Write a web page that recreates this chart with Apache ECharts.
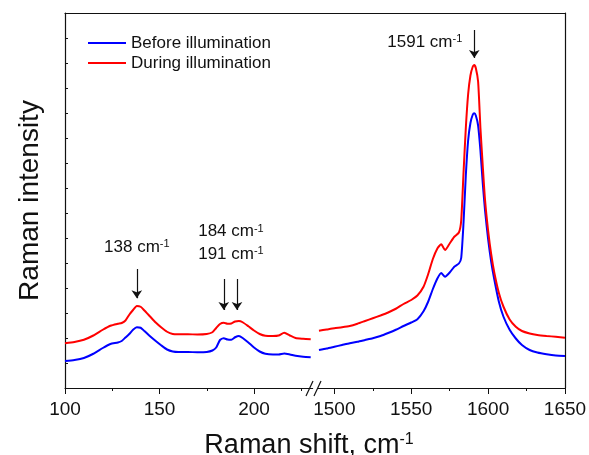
<!DOCTYPE html>
<html>
<head>
<meta charset="utf-8">
<script src="https://cdn.jsdelivr.net/npm/echarts@6/dist/echarts.min.js"></script>
<style>
html,body{margin:0;padding:0;background:#fff;}
#chart{width:589px;height:455px;}
</style>
</head>
<body>
<div id="chart"></div>
<script>
// ---- data (arbitrary intensity units) ----
const seriesNames = ['Before illumination', 'During illumination'];

const leftShift = [100,105,110,115,120,124,128,130,132,134,136,138,140,142,145,148,151,154,157,160,165,170,175,178,180,182,184,186,188,190,192,194,197,200,203,206,210,213,216,219,222,226,230];
const leftBefore = [1.08,1.12,1.20,1.37,1.60,1.76,1.82,1.88,2.02,2.16,2.33,2.43,2.41,2.28,2.07,1.88,1.70,1.54,1.46,1.44,1.44,1.43,1.44,1.50,1.62,1.92,1.99,1.94,1.93,2.03,2.08,2.00,1.82,1.62,1.46,1.37,1.34,1.34,1.38,1.34,1.29,1.25,1.23];
const leftDuring = [1.79,1.84,1.93,2.10,2.33,2.49,2.57,2.60,2.70,2.93,3.12,3.28,3.25,3.10,2.86,2.62,2.42,2.25,2.16,2.15,2.15,2.14,2.16,2.23,2.40,2.56,2.61,2.57,2.58,2.66,2.68,2.63,2.47,2.30,2.16,2.09,2.08,2.10,2.21,2.10,2.00,1.97,1.95];

const rightShift = [1490,1495,1500,1505,1510,1515,1520,1525,1530,1535,1540,1545,1550,1554,1558,1561,1564,1567,1569.5,1572,1575,1578,1581,1582.5,1584,1585.5,1587,1588.5,1590,1591,1592,1593.5,1595,1596.5,1598,1600,1602,1604,1607,1610,1614,1618,1622,1627,1632,1638,1644,1650];
const rightBefore = [1.52,1.58,1.65,1.72,1.79,1.85,1.92,1.99,2.08,2.20,2.33,2.48,2.62,2.75,3.07,3.45,3.95,4.38,4.60,4.45,4.62,4.85,4.98,5.20,6.60,8.50,9.90,10.60,10.93,10.99,10.90,10.50,9.50,8.20,7.10,5.95,5.05,4.35,3.45,2.85,2.33,1.98,1.72,1.52,1.42,1.35,1.30,1.28];
const rightDuring = [2.29,2.34,2.39,2.43,2.48,2.57,2.68,2.79,2.90,3.02,3.17,3.36,3.52,3.70,4.05,4.55,5.15,5.58,5.75,5.52,5.78,6.05,6.22,6.70,8.60,10.40,11.75,12.50,12.85,12.92,12.80,12.25,10.40,8.90,7.52,6.30,5.35,4.62,3.80,3.25,2.74,2.45,2.28,2.18,2.12,2.08,2.05,2.01];

const leftMajorTicks = [100,150,200];
const leftMinorTicks = [125,175,225];
const rightMajorTicks = [1500,1550,1600,1650];
const rightMinorTicks = [1525,1575,1625];

// annotated peaks: position, arrow top, arrow tip
const peakLeft = [138, 184, 191];
const peakLeftArrowTop = [4.76, 4.36, 4.36];
const peakLeftArrowTip = [3.59, 3.12, 3.12];
const peakRight = [1591];
const peakRightArrowTop = [14.32];
const peakRightArrowTip = [13.2];
// label anchors
const labelLeftX = [138, 187.8, 187.8];
const labelLeftY = [5.64, 6.25, 5.36];
const labelLeftText = ['138', '184', '191'];
const labelRightX = [1591];
const labelRightY = [13.84];
const labelRightText = ['1591'];

// ---- chart ----
const FONT = '"Liberation Sans", Arial, sans-serif';
const BLUE = '#0000ff', RED = '#ff0000', INK = '#111';
const zip = (a, b) => a.map((v, i) => [v, b[i]]);

const L_LEFT = 65, L_RIGHT = 312.6, R_LEFT = 318.2, R_RIGHT = 565, TOP = 13, BOTTOM = 388, W = 589, H = 455;

const richSup = {
  a: {fontSize: 17, fontFamily: FONT, color: INK},
  s: {fontSize: 11, fontFamily: FONT, color: INK, verticalAlign: 'top'}
};

function arrowLines(xs, tops, tips) {
  return xs.map((x, i) => [{coord: [x, tops[i]]}, {coord: [x, tips[i]]}]);
}
function labelPoints(xs, ys, texts) {
  return xs.map((x, i) => ({coord: [x, ys[i]], value: texts[i]}));
}

const markLineStyle = {
  silent: true, symbol: ['none', 'arrow'], symbolSize: 8,
  lineStyle: {color: INK, width: 1.2, type: 'solid'},
  label: {show: false}, emphasis: {disabled: true}, animation: false
};

const valueAxisHidden = (grid, min, max) => ({
  type: 'value', gridIndex: grid, min: min, max: max, show: false
});
const plainNum = v => String(v);
const gridBase = {top: TOP, bottom: H - BOTTOM, outerBoundsMode: 'none', containLabel: false};

const option = {
  animation: false,
  textStyle: {fontFamily: FONT},
  grid: [
    Object.assign({left: L_LEFT, right: W - R_RIGHT}, gridBase),
    Object.assign({left: L_LEFT, right: W - L_RIGHT}, gridBase),
    Object.assign({left: R_LEFT, right: W - R_RIGHT}, gridBase)
  ],
  legend: {
    data: seriesNames, orient: 'vertical', left: 88, top: 34.5, padding: 0,
    icon: 'rect', itemWidth: 38, itemHeight: 2, itemGap: 3,
    textStyle: {fontSize: 17, fontFamily: FONT, color: INK, lineHeight: 17}
  },
  xAxis: [
    {type: 'value', gridIndex: 0, min: 0, max: 1, position: 'bottom',
     axisLine: {show: false}, axisTick: {show: false}, axisLabel: {show: false}, splitLine: {show: false},
     name: '{a|Raman shift, cm}{s|-1}', nameLocation: 'middle', nameGap: 44,
     nameTextStyle: {padding: [0, 12, 0, 0], rich: {
       a: {fontSize: 27, fontFamily: FONT, color: INK},
       s: {fontSize: 16, fontFamily: FONT, color: INK, verticalAlign: 'top'}}}},
    {type: 'value', gridIndex: 0, min: 0, max: 1, position: 'top',
     axisLine: {show: true, onZero: false, lineStyle: {color: INK, width: 1.2}},
     axisTick: {show: false}, axisLabel: {show: false}, splitLine: {show: false}},
    {type: 'value', gridIndex: 1, min: 100, max: 231, position: 'bottom',
     axisLine: {show: true, onZero: false, lineStyle: {color: INK, width: 1.2}},
     axisTick: {show: true, inside: false, length: 6, customValues: leftMajorTicks, lineStyle: {color: INK, width: 1}},
     axisLabel: {show: true, customValues: leftMajorTicks, formatter: plainNum, margin: 12, fontSize: 19, fontFamily: FONT, color: INK},
     splitLine: {show: false}},
    {type: 'value', gridIndex: 1, min: 100, max: 231, position: 'bottom',
     axisLine: {show: false, onZero: false},
     axisTick: {show: true, inside: false, length: 3, customValues: leftMinorTicks, lineStyle: {color: INK, width: 1}},
     axisLabel: {show: false}, splitLine: {show: false}},
    {type: 'value', gridIndex: 2, min: 1489.5, max: 1650, position: 'bottom',
     axisLine: {show: true, onZero: false, lineStyle: {color: INK, width: 1.2}},
     axisTick: {show: true, inside: false, length: 6, customValues: rightMajorTicks, lineStyle: {color: INK, width: 1}},
     axisLabel: {show: true, customValues: rightMajorTicks, formatter: plainNum, margin: 12, fontSize: 19, fontFamily: FONT, color: INK},
     splitLine: {show: false}},
    {type: 'value', gridIndex: 2, min: 1489.5, max: 1650, position: 'bottom',
     axisLine: {show: false, onZero: false},
     axisTick: {show: true, inside: false, length: 3, customValues: rightMinorTicks, lineStyle: {color: INK, width: 1}},
     axisLabel: {show: false}, splitLine: {show: false}}
  ],
  yAxis: [
    {type: 'value', gridIndex: 0, min: 0, max: 15, interval: 1, position: 'left',
     axisLine: {show: true, onZero: false, lineStyle: {color: INK, width: 1.2}},
     axisTick: {show: true, inside: true, length: 3, lineStyle: {color: INK, width: 1}},
     axisLabel: {show: false}, splitLine: {show: false},
     name: 'Raman intensity', nameLocation: 'middle', nameGap: 21,
     nameTextStyle: {fontSize: 28, fontFamily: FONT, color: INK}},
    {type: 'value', gridIndex: 0, min: 0, max: 15, position: 'right',
     axisLine: {show: true, onZero: false, lineStyle: {color: INK, width: 1.2}},
     axisTick: {show: false}, axisLabel: {show: false}, splitLine: {show: false}},
    valueAxisHidden(1, 0, 15),
    valueAxisHidden(2, 0, 15)
  ],
  series: [
    {name: seriesNames[0], type: 'line', xAxisIndex: 2, yAxisIndex: 2, data: zip(leftShift, leftBefore),
     symbol: 'none', smooth: 0.2, lineStyle: {color: BLUE, width: 2}, itemStyle: {color: BLUE}, z: 3},
    {name: seriesNames[1], type: 'line', xAxisIndex: 2, yAxisIndex: 2, data: zip(leftShift, leftDuring),
     symbol: 'none', smooth: 0.2, lineStyle: {color: RED, width: 2}, itemStyle: {color: RED}, z: 3,
     markLine: Object.assign({data: arrowLines(peakLeft, peakLeftArrowTop, peakLeftArrowTip)}, markLineStyle),
     markPoint: {silent: true, symbol: 'circle', symbolSize: 0, animation: false,
       data: labelPoints(labelLeftX, labelLeftY, labelLeftText),
       label: {show: true, position: 'inside', formatter: p => '{a|' + p.value + ' cm}{s|-1}', rich: richSup}}},
    {name: seriesNames[0], type: 'line', xAxisIndex: 4, yAxisIndex: 3, data: zip(rightShift, rightBefore),
     symbol: 'none', smooth: 0.2, lineStyle: {color: BLUE, width: 2}, itemStyle: {color: BLUE}, z: 3},
    {name: seriesNames[1], type: 'line', xAxisIndex: 4, yAxisIndex: 3, data: zip(rightShift, rightDuring),
     symbol: 'none', smooth: 0.2, lineStyle: {color: RED, width: 2}, itemStyle: {color: RED}, z: 3,
     markLine: Object.assign({data: arrowLines(peakRight, peakRightArrowTop, peakRightArrowTip)}, markLineStyle),
     markPoint: {silent: true, symbol: 'circle', symbolSize: 0, animation: false,
       data: labelPoints(labelRightX, labelRightY, labelRightText),
       label: {show: true, position: 'left', distance: 12, formatter: p => '{a|' + p.value + ' cm}{s|-1}', rich: richSup}}}
  ],
  graphic: [
    {type: 'line', shape: {x1: 306, y1: 396, x2: 313, y2: 381}, style: {stroke: INK, lineWidth: 1.2}, silent: true},
    {type: 'line', shape: {x1: 314, y1: 396, x2: 321, y2: 381}, style: {stroke: INK, lineWidth: 1.2}, silent: true}
  ]
};

const chart = echarts.init(document.getElementById('chart'), null, {renderer: 'canvas'});
chart.setOption(option);
</script>
</body>
</html>
